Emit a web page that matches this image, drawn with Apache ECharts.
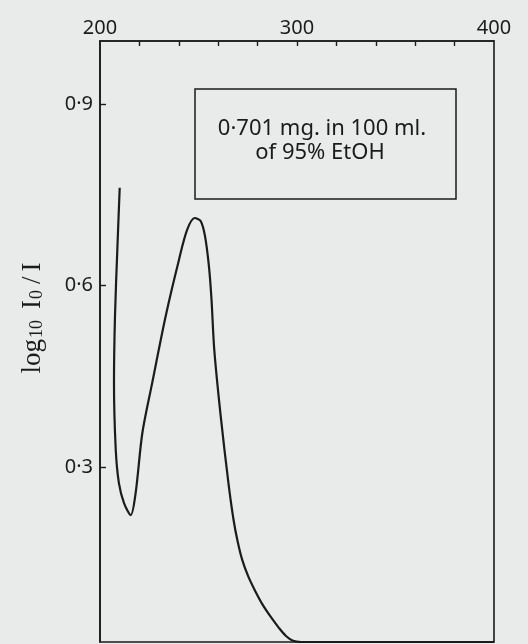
<!DOCTYPE html>
<html>
<head>
<meta charset="utf-8">
<script src="https://cdn.jsdelivr.net/npm/echarts@6/dist/echarts.min.js"></script>
<style>
html,body{margin:0;padding:0;background:#e8ebe9;}
#chart{width:528px;height:644px;}
</style>
</head>
<body>
<div id="chart"></div>
<script>
// Wavelength (nm) and absorbance (log10 I0/I)
const wavelength = [210.0, 208.8, 207.6, 207.1, 208.0, 209.6, 212.2, 215.6, 218.1, 221.5, 226.5, 233.3, 240.1, 244.3, 248.1, 251.1, 253.3, 255.3, 256.6, 258.0, 261.3, 265.2, 267.8, 269.9, 272.2, 275.2, 278.7, 282.7, 286.8, 290.9, 294.4, 298.0, 302.0, 340, 380, 400];
const absorbance = [0.762, 0.660, 0.549, 0.439, 0.328, 0.273, 0.240, 0.220, 0.257, 0.356, 0.439, 0.549, 0.643, 0.693, 0.712, 0.707, 0.682, 0.632, 0.577, 0.494, 0.383, 0.273, 0.212, 0.176, 0.146, 0.119, 0.095, 0.071, 0.051, 0.033, 0.020, 0.012, 0.010, 0.010, 0.010, 0.010];
const xTickValues = [220, 240, 260, 280, 300, 320, 340, 360, 380];
const xLabelValues = [200, 300, 400];
const yTickValues = [0.3, 0.6, 0.9];
const annotationLines = ['0·701 mg. in 100 ml.', 'of 95% EtOH'];

const ink = '#1b1b1b';
const font = 'Noto Sans, DejaVu Sans, sans-serif';
const serif = 'Liberation Serif, DejaVu Serif, serif';
const chart = echarts.init(document.getElementById('chart'));
chart.setOption({
  backgroundColor: '#e8ebe9',
  animation: false,
  grid: {left: 100, right: 34, top: 41, bottom: 2, show: true, borderColor: ink, borderWidth: 1.6, backgroundColor: 'transparent'},
  xAxis: {
    type: 'value', position: 'top', min: 200, max: 400,
    axisLine: {show: true, lineStyle: {color: ink, width: 1.6}},
    axisTick: {show: true, inside: true, length: 5, customValues: xTickValues, lineStyle: {color: ink, width: 1.4}},
    axisLabel: {show: true, customValues: xLabelValues, margin: 3, color: ink, fontSize: 20, fontFamily: font},
    splitLine: {show: false}
  },
  yAxis: {
    type: 'value', min: 0.01, max: 1.005,
    axisLine: {show: true, lineStyle: {color: ink, width: 1.6}},
    axisTick: {show: true, inside: true, length: 6, customValues: yTickValues, lineStyle: {color: ink, width: 1.4}},
    axisLabel: {show: true, customValues: yTickValues, margin: 7, color: ink, fontSize: 20, fontFamily: font,
      formatter: v => v.toFixed(1).replace('.', '·')},
    splitLine: {show: false}
  },
  series: [{
    type: 'line',
    data: wavelength.map((w, i) => [w, absorbance[i]]),
    smooth: 0.3,
    showSymbol: false,
    lineStyle: {color: ink, width: 2.2},
    clip: true
  }],
  graphic: [
    {type: 'rect', shape: {x: 195, y: 89, width: 261, height: 110}, style: {fill: 'transparent', stroke: ink, lineWidth: 1.5}},
    {type: 'text', x: 322, y: 129, style: {text: annotationLines[0], fill: ink, font: '22px ' + font, textAlign: 'center', textVerticalAlign: 'middle'}},
    {type: 'text', x: 320, y: 153, style: {text: annotationLines[1], fill: ink, font: '22px ' + font, textAlign: 'center', textVerticalAlign: 'middle'}},
    {type: 'text', x: 32, y: 318, rotation: Math.PI / 2, style: {
      text: '{m|log}{s|10}{g|I}{s|0}{d|/}{m|I}',
      textAlign: 'center', textVerticalAlign: 'middle',
      rich: {
        m: {fontFamily: serif, fontSize: 27, fill: ink, verticalAlign: 'bottom', lineHeight: 28},
        g: {fontFamily: serif, fontSize: 27, fill: ink, verticalAlign: 'bottom', lineHeight: 28, padding: [0, 0, 0, 10]},
        d: {fontFamily: serif, fontSize: 27, fill: ink, verticalAlign: 'bottom', lineHeight: 28, padding: [0, 5, 0, 5]},
        s: {fontFamily: serif, fontSize: 18, fill: ink, verticalAlign: 'bottom', lineHeight: 28, padding: [0, 1, 0, 1]}
      }
    }}
  ]
});
</script>
</body>
</html>
